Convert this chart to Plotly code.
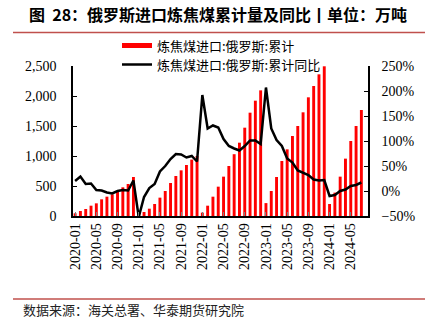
import plotly.graph_objects as go

# ---- data ----
months = [f"{y}-{m:02d}" for y in range(2020, 2025) for m in range(1, 13)][:55]

volume = [
    45, 83, 117, 172, 211, 278, 322, 361, 400, 478, 533, 650,          # 2020
    20, 67, 122, 200, 306, 417, 550, 667, 761, 850, 940, 1000,         # 2021
    56, 172, 322, 489, 656, 833, 1030, 1222, 1472, 1722, 1922, 2094,   # 2022
    215, 417, 650, 917, 1111, 1333, 1500, 1728, 1978, 2167, 2361, 2495,  # 2023
    200, 389, 656, 956, 1250, 1500, 1767,                              # 2024
]

yoy = [
    20, 29, 14, 15, 2, 1, -3, -5, 0, 2, 1, 21,
    -52, -12, 6, 14, 39, 50, 64, 74, 73, 67, 70, 59,
    192, 125, 131, 127, 104, 90, 85, 81, 90, 101, 101, 94,
    207, 125, 102, 90, 65, 57, 41, 37, 32, 23, 21, 22,
    -10, -8, 0, 3, 10, 12, 17,
]

tick_labels = months[::4]

name_bar = "炼焦煤进口:俄罗斯:累计"
name_line = "炼焦煤进口:俄罗斯:累计同比"
title_text = "<b>图  28：俄罗斯进口炼焦煤累计量及同比丨单位：万吨</b>"
source_text = "数据来源：海关总署、华泰期货研究院"

# ---- figure ----
L, R, T, B = 73, 62, 66, 112
W, H = 430, 328
pw, ph = W - L - R, H - T - B

def px_x(p):
    return (p - L) / pw

def px_y(p):
    return (H - B - p) / ph

serif = "Liberation Serif, Times New Roman, serif"
cjk = "Noto Sans CJK SC, sans-serif"

fig = go.Figure()
fig.add_trace(go.Bar(
    x=months, y=volume, marker=dict(color="#ff0000", line=dict(width=0)),
    width=0.55, name=name_bar, showlegend=False,
))
# legend swatch for the bars
fig.add_trace(go.Scatter(
    x=[None], y=[None], mode="lines", line=dict(color="#ff0000", width=5),
    name=name_bar, legend="legend",
))
fig.add_trace(go.Scatter(
    x=months, y=yoy, mode="lines", line=dict(color="black", width=2.5),
    name=name_line, yaxis="y2", legend="legend2",
))

fig.update_layout(
    width=W, height=H, autosize=False,
    margin=dict(l=L, r=R, t=T, b=B, pad=0),
    paper_bgcolor="white", plot_bgcolor="white",
    title=dict(text=title_text, x=218 / W, xanchor="center",
               y=1 - 15 / H, yanchor="middle", yref="container",
               font=dict(family=cjk, size=16, color="black")),
    xaxis=dict(type="category", range=[-0.4, 55.25],
               tickmode="array", tickvals=tick_labels, ticktext=tick_labels,
               tickangle=-90, ticks="inside", ticklen=4, tickcolor="#808080",
               showline=True, linecolor="black", linewidth=1.5,
               showgrid=False, zeroline=False,
               tickfont=dict(family=serif, size=14, color="black")),
    yaxis=dict(range=[0, 2500], dtick=500, tickformat=",",
               ticks="inside", ticklen=4, tickcolor="black",
               showline=True, linecolor="black", linewidth=1.5,
               showgrid=False, zeroline=False, ticklabelstandoff=12,
               tickfont=dict(family=serif, size=14, color="black")),
    yaxis2=dict(range=[-50, 250], dtick=50, ticksuffix="%",
                overlaying="y", side="right",
                ticks="inside", ticklen=4, tickcolor="black",
                showline=True, linecolor="black", linewidth=1.5,
                showgrid=False, zeroline=False, ticklabelstandoff=9,
                tickfont=dict(family=serif, size=14, color="black")),
    legend=dict(x=px_x(117), xanchor="left", y=px_y(45.5), yanchor="middle",
                bgcolor="rgba(0,0,0,0)", font=dict(family=cjk, size=13, color="black")),
    legend2=dict(x=px_x(117), xanchor="left", y=px_y(64.5), yanchor="middle",
                 bgcolor="rgba(0,0,0,0)", font=dict(family=cjk, size=13, color="black")),
    bargap=0.45,
    shapes=[
        dict(type="line", xref="paper", yref="paper",
             x0=px_x(13), x1=px_x(425), y0=px_y(32.5), y1=px_y(32.5),
             line=dict(color="#c0504d", width=1.5)),
        dict(type="line", xref="paper", yref="paper",
             x0=px_x(13), x1=px_x(425), y0=px_y(299), y1=px_y(299),
             line=dict(color="#c0504d", width=1.5)),
    ],
    annotations=[
        dict(text=source_text, xref="paper", yref="paper",
             x=px_x(21), y=px_y(309), xanchor="left", yanchor="middle",
             showarrow=False, font=dict(family=cjk, size=13, color="#222")),
    ],
)

fig.write_html("out.html")
